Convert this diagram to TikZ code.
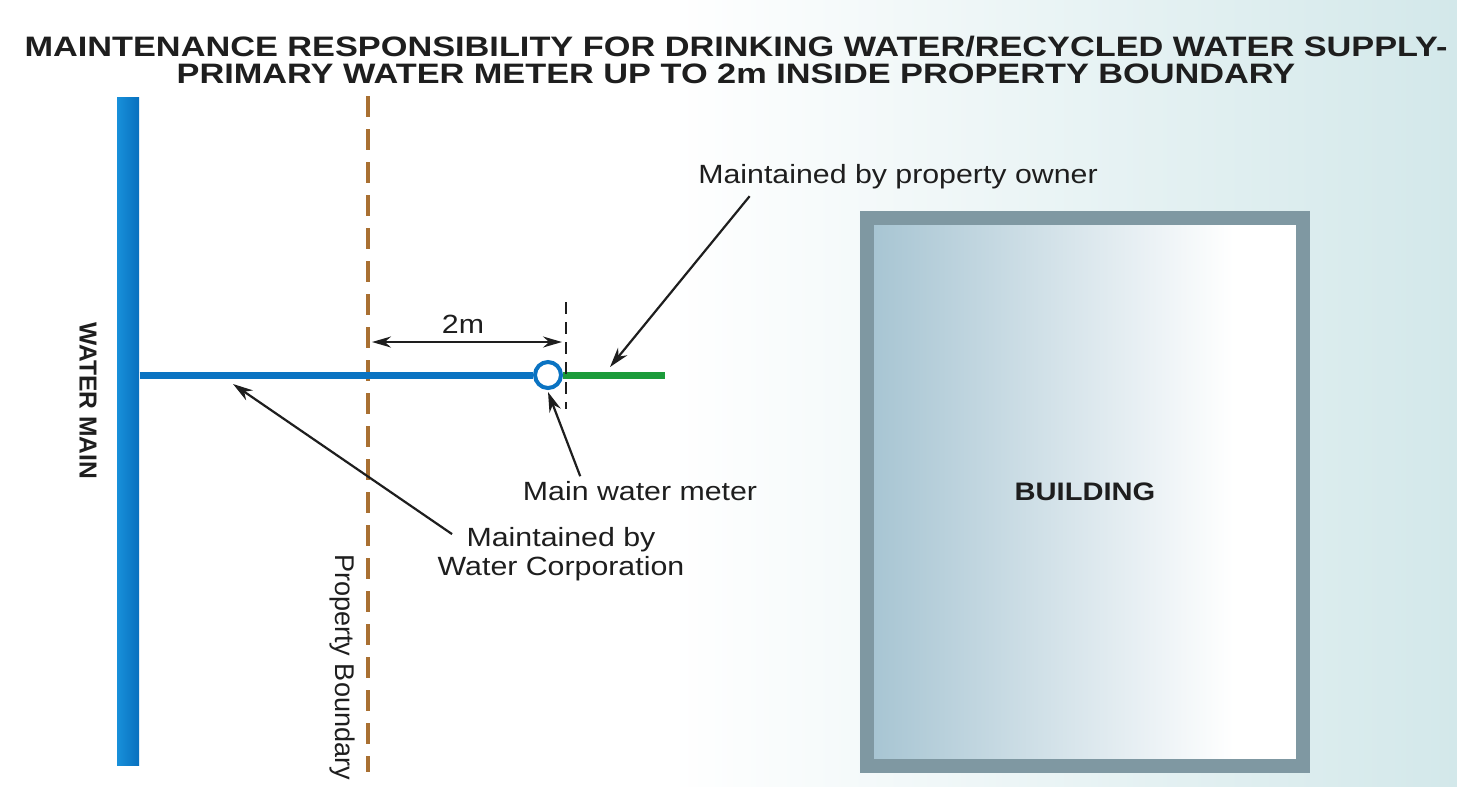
\documentclass[tikz,border=0pt]{standalone}
\usepackage{fontspec}
\setmainfont{Liberation Sans}
\newfontfamily\labelfont[FakeStretch=1.15]{Liberation Sans}
\newfontfamily\titlefont[FakeStretch=1.22]{Liberation Sans}
\usetikzlibrary{arrows.meta,positioning}
\usepackage{xcolor}
\definecolor{ink}{HTML}{1E1E1E}
\definecolor{pipeblue}{HTML}{0A73C2}
\definecolor{mainlight}{HTML}{1890DA}
\definecolor{maindark}{HTML}{0870BE}
\definecolor{ownergreen}{HTML}{1B9B3A}
\definecolor{boundbrown}{HTML}{A97032}
\definecolor{wall}{HTML}{7F98A2}
\definecolor{roomleft}{HTML}{A6C4D2}
\definecolor{bgteal}{HTML}{D3E8EA}
\pgfdeclarehorizontalshading{backdrop}{100bp}{color(0bp)=(white); color(25bp)=(white); color(48bp)=(white); color(75bp)=(bgteal); color(100bp)=(bgteal)}
\pgfdeclarehorizontalshading{roomfill}{100bp}{color(0bp)=(roomleft); color(25bp)=(roomleft); color(67bp)=(white); color(100bp)=(white)}
\tikzset{
  every node/.style={text=ink,inner sep=0pt},
  title/.style={font=\titlefont\bfseries\fontsize{8}{9.6}\selectfont,anchor=base},
  label/.style={font=\labelfont\fontsize{7.5}{8}\selectfont,align=center},
  sidelabel/.style={font=\fontsize{7.7}{9}\selectfont,rotate=-90},
  watermain/.style={shade,left color=mainlight,right color=maindark,minimum width=2.2mm,minimum height=66.8mm},
  meter/.style={circle,draw=pipeblue,fill=white,line width=0.4mm,minimum size=2.6mm},
  building/.style={draw=wall,line width=1.4mm,shade,shading=roomfill,minimum width=43.6mm,minimum height=54.8mm,font=\labelfont\bfseries\fontsize{7.2}{9}\selectfont},
  pipe/.style={draw=pipeblue,line width=0.7mm},
  ownerpipe/.style={draw=ownergreen,line width=0.7mm},
  boundary/.style={draw=boundbrown,line width=0.4mm,dash pattern=on 2.1mm off 1.2mm},
  marker/.style={draw=ink,line width=0.22mm,dash pattern=on 1.2mm off 0.8mm},
  callout/.style={-{Stealth[length=2mm,width=1.2mm]},draw=ink,line width=0.22mm},
  dim/.style={{Stealth[length=1.9mm,width=1.1mm]}-{Stealth[length=1.9mm,width=1.1mm]},draw=ink,line width=0.22mm},
}
\begin{document}
\begin{tikzpicture}[x=0.1mm,y=-0.1mm]

\shade[shading=backdrop] (0,0) rectangle (1457,786);

\node[title] (title1) at (736,56) {MAINTENANCE RESPONSIBILITY FOR DRINKING WATER/RECYCLED WATER SUPPLY-};
\node[title] (title2) at (736,83) {PRIMARY WATER METER UP TO 2m INSIDE PROPERTY BOUNDARY};

\node[watermain] (main) at (128,431) {};
\node[sidelabel,font=\bfseries\fontsize{7}{8}\selectfont] (mainlbl) at (88,401) {WATER MAIN};

\coordinate (btop) at (368,96);
\coordinate (bbot) at (368,772);
\draw[boundary] (btop) -- (bbot);
\node[sidelabel] (boundlbl) at (342,667) {Property Boundary};

\node[meter] (meter) at (548,375) {};
\coordinate (ownerend) at (665,375);
\draw[pipe] (main.east |- meter) -- (meter.west);
\draw[ownerpipe] (meter.east) -- (ownerend);

\coordinate (mtop) at (566,302);
\coordinate (mbot) at (566,409);
\draw[marker] (mtop) -- (mbot);

\coordinate (dimL) at (372,342);
\coordinate (dimR) at (562,342);
\draw[dim] (dimL) -- (dimR);
\node[label,anchor=base] (dimlbl) at (463,333) {2m};

\node[building] (bldg) at (1085,492) {BUILDING};

\node[label,anchor=base] (ownerlbl) at (898,183) {Maintained by property owner};
\node[label,anchor=base] (meterlbl) at (640,500) {Main water meter};
\node[label,anchor=base] (corplbl) at (561,575) {Maintained by\\Water Corporation};

\coordinate (ownertip) at (610,367);
\coordinate (corptip) at (233,384);
\draw[callout] ([xshift=5.2mm,yshift=-0.7mm]ownerlbl.south west) -- (ownertip);
\draw[callout] ([xshift=5.8mm,yshift=0.4mm]meterlbl.north west) -- ([yshift=-0.2mm]meter.south);
\draw[callout] ([xshift=1.5mm,yshift=-0.7mm]corplbl.north west) -- (corptip);

\end{tikzpicture}
\end{document}
